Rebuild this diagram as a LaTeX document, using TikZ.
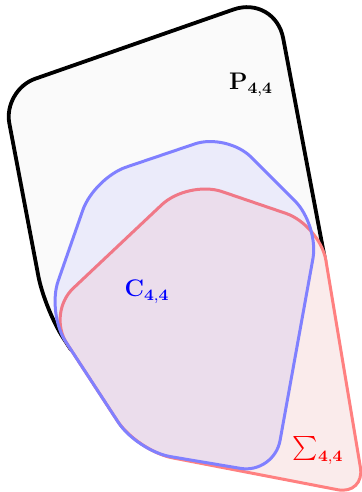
\documentclass[tikz,border=0pt]{standalone}
\usepackage{amsmath}
\usepackage{xcolor}
\usepackage{tikz}
% outlines of the two inner cones (pixel units)
\newcommand{\coneC}{(70.5,245.5) -- (94,178) -- (227,133) -- (319,225) -- (274,474) -- (137,451) -- (47,313) -- cycle}
\newcommand{\coneS}{(117.5,246.5) -- (188,180) -- (320,225) [rounded corners=14pt] -- (365,495) [rounded corners=18pt] -- (137,451) -- (47,313) -- cycle}
\tikzset{
  pcone/.style={draw=black, fill=black!2, line width=1.9pt, line join=round},
  cbase/.style={rounded corners=17pt},
  sbase/.style={rounded corners=18pt},
  ccone/.style={cbase, draw=blue!50, line width=1.5pt, fill=blue, fill opacity=0.06},
  scone/.style={sbase, draw=red!50, line width=1.5pt, fill=red, fill opacity=0.06},
  mask/.style={fill=black!2},
  lbl/.style={font=\large},
}
\begin{document}
\begin{tikzpicture}[x=0.5pt, y=-0.5pt]
\useasboundingbox (0,0) rectangle (362,492);
% outer cone
\draw[pcone] (139,42.5) [rounded corners=22pt] -- (275,-5) [rounded corners=0.5pt] -- (325.5,262) -- (230,380) -- (71.1,350) [rounded corners=17pt] -- (44.7,309.5) -- (3,90) -- cycle;
% hide its lower part
\fill[mask, sbase] \coneS;
\fill[mask, cbase] \coneC;
% inner cones
\draw[scone] \coneS;
\draw[ccone] \coneC;
\node[lbl] (lblP) at (251,85) {$\mathbf{P}_{\mathbf{4,4}}$};
\node[lbl, text=blue] (lblC) at (147,292) {$\mathbf{C}_{\mathbf{4,4}}$};
\node[lbl, text=red] (lblS) at (318,451) {$\sum_{\mathbf{4,4}}$};
\end{tikzpicture}
\end{document}
